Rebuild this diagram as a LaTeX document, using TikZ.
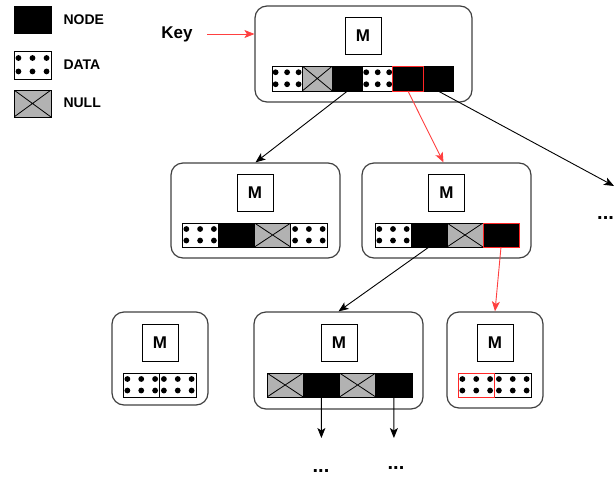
\documentclass[tikz,border=0pt]{standalone}
\usepackage{fontspec}
\setmainfont{Liberation Sans}
\usetikzlibrary{arrows.meta,positioning,calc}

\begin{document}
\begin{tikzpicture}[x=1pt,y=-1pt,
  box/.style={draw=black!75, line width=1.2pt, rounded corners=12pt},
  mbox/.style={draw, line width=1pt, minimum width=36, minimum height=37, font=\fontsize{17}{20}\selectfont\bfseries},
  cell/.style={draw, line width=1pt, minimum width=36.25, minimum height=24, inner sep=0pt, outer sep=0pt},
  nodecell/.style={cell, fill=black},
  nullcell/.style={cell, fill=black!30, path picture={
    \draw[black, line width=0.8pt] (path picture bounding box.north west) -- (path picture bounding box.south east)
      (path picture bounding box.south west) -- (path picture bounding box.north east);}},
  datacell/.style={cell, fill=white, path picture={
    \foreach \dx in {0.12,0.5,0.88} \foreach \dy in {0.27,0.75}
      \fill[black] let \p1=(path picture bounding box.south west), \p2=(path picture bounding box.north east)
        in ({\x1+\dx*(\x2-\x1)},{\y1+\dy*(\y2-\y1)}) circle (2.9pt);}},
  legend/.style={font=\fontsize{14}{16}\selectfont\bfseries},
  more/.style={font=\fontsize{20}{22}\selectfont\bfseries, anchor=base, inner sep=0pt},
  arr/.style={-{Stealth[length=10pt,width=8pt,inset=2.5pt]}, line width=0.9pt},
  redarr/.style={arr, draw=red!75, color=red!75}
]
\useasboundingbox (0,0) rectangle (616,477);

% legend
\node[nodecell, minimum width=37, minimum height=27] (lgnode) at (32.5,19.5) {};
\node[datacell, minimum width=37, minimum height=28] (lgdata) at (32.5,65) {};
\node[nullcell, minimum width=37, minimum height=27] (lgnull) at (32.5,103.5) {};
\node[legend, anchor=west] (lgnodetxt) at (60,19.5) {NODE};
\node[legend, anchor=west] (lgdatatxt) at (60,64.5) {DATA};
\node[legend, anchor=west] (lgnulltxt) at (60,102.5) {NULL};
\node[font=\fontsize{17}{20}\selectfont\bfseries] (key) at (177,34) {Key};

% containers
\node[box, minimum width=217, minimum height=96] (root) at (363.5,54) {};
\node[box, minimum width=169, minimum height=95] (ml) at (255.5,210.5) {};
\node[box, minimum width=169, minimum height=95] (mr) at (446.5,210.5) {};
\node[box, minimum width=96, minimum height=93] (bl) at (160,358.5) {};
\node[box, minimum width=169, minimum height=97] (bm) at (338.5,360.5) {};
\node[box, minimum width=96, minimum height=96] (br) at (495,360) {};

\node[mbox] (rootm) at (363,36) {M};
\node[mbox] (mlm) at (255,192.5) {M};
\node[mbox] (mrm) at (446.5,192.5) {M};
\node[mbox] (blm) at (160,342.5) {M};
\node[mbox] (bmm) at (339,342.5) {M};
\node[mbox] (brm) at (495,342.5) {M};

% root cells
\node[datacell, minimum width=30.2, minimum height=25, anchor=west] (r1) at (272,78.5) {};
\node[nullcell, minimum width=30.2, minimum height=25, right=0pt of r1] (r2) {};
\node[nodecell, minimum width=30.2, minimum height=25, right=0pt of r2] (r3) {};
\node[datacell, minimum width=30.2, minimum height=25, right=0pt of r3] (r4) {};
\node[nodecell, minimum width=30.2, minimum height=25, right=0pt of r4] (r5) {};
\node[nodecell, minimum width=30.2, minimum height=25, right=0pt of r5] (r6) {};
\node[nodecell, draw=red!85, minimum width=30.2, minimum height=25] at (r5) {};

% middle left cells
\node[datacell, anchor=west] (ml1) at (182,235) {};
\node[nodecell, right=0pt of ml1] (ml2) {};
\node[nullcell, right=0pt of ml2] (ml3) {};
\node[datacell, right=0pt of ml3] (ml4) {};

% middle right cells
\node[datacell, minimum width=36, anchor=west] (mr1) at (375,235) {};
\node[nodecell, minimum width=36, right=0pt of mr1] (mr2) {};
\node[nullcell, minimum width=36, right=0pt of mr2] (mr3) {};
\node[nodecell, minimum width=36, draw=red!85, right=0pt of mr3] (mr4) {};

% bottom cells
\node[datacell, minimum width=36.5, anchor=west] (bl1) at (123,385) {};
\node[datacell, minimum width=36.5, right=0pt of bl1] (bl2) {};

\node[nullcell, anchor=west] (bm1) at (267,385) {};
\node[nodecell, right=0pt of bm1] (bm2) {};
\node[nullcell, right=0pt of bm2] (bm3) {};
\node[nodecell, right=0pt of bm3] (bm4) {};

\node[datacell, minimum width=36.5, anchor=west] (br1) at (458,385) {};
\node[datacell, minimum width=36.5, right=0pt of br1] (br2) {};
\node[cell, draw=red!85, minimum width=36.5] at (br1) {};

% pointers
\coordinate (far) at (614,186);
\coordinate (bmend1) at (321.4,438);
\coordinate (bmend2) at (393.9,438);

\draw[redarr, line width=0.7pt, shorten <=11pt] (key.east) -- (key.east -| root.west);
\draw[arr] (r3.south) -- (ml.north);
\draw[redarr] (r5.south) -- ([xshift=-3pt]mr.north);
\draw[arr] (r6.south) -- (far);
\draw[arr] (mr2.south) -- (bm.north);
\draw[redarr] (mr4.south) -- (br.north);
\draw[arr] (bm2.south) -- (bmend1);
\draw[arr] (bm4.south) -- (bmend2);

\node[more, anchor=base west] (farmore) at (597,219) {...};
\node[more] (bmmore1) at (321,472) {...};
\node[more] (bmmore2) at (396,469) {...};
\end{tikzpicture}
\end{document}
